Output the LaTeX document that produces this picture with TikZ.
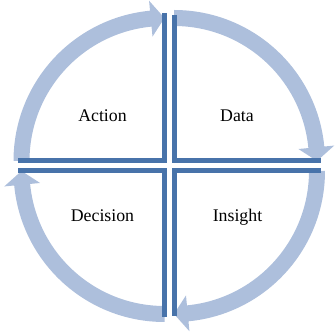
\documentclass[tikz,border=0pt]{standalone}
\usepackage{fontspec}
\setmainfont{Liberation Serif}
\definecolor{darkline}{RGB}{72,115,170}
\definecolor{arrowfill}{RGB}{173,191,220}
\newcommand\quadarrow[3]{%
  \fill[arrowfill, shift={#1}] (#2:151) arc[start angle=#2, end angle={#3+5.5}, radius=151]
    -- ({#3+5.5}:161) -- (#3:143) -- ({#3+5.5}:125) -- ({#3+5.5}:135)
    arc[start angle={#3+5.5}, end angle=#2, radius=135] -- cycle;}
\begin{document}
\begin{tikzpicture}[x=1pt,y=1pt,
  quadline/.style={draw=darkline, line width=5pt, line join=miter},
  quadlabel/.style={anchor=base, inner sep=0pt, font=\fontsize{17.8}{20}\selectfont}]
\useasboundingbox (0,0) rectangle (335,332);
\coordinate (A) at (164.5,171);
\coordinate (D) at (174,171);
\coordinate (I) at (174,161);
\coordinate (E) at (164.5,161);
% arrows
\quadarrow{(A)}{180}{90}
\quadarrow{(D)}{90}{0}
\quadarrow{(I)}{0}{-90}
\quadarrow{(E)}{270}{180}
% quadrant lines
\coordinate (a1) at (164.5,319);
\coordinate (a2) at (18,171);
\coordinate (d1) at (174,317);
\coordinate (d2) at (321,171);
\coordinate (i1) at (321,161);
\coordinate (i2) at (174,16);
\coordinate (e1) at (18,161);
\coordinate (e2) at (164.5,15);
\draw[quadline] (a1) -- (A) -- (a2);
\draw[quadline] (d1) -- (D) -- (d2);
\draw[quadline] (i1) -- (I) -- (i2);
\draw[quadline] (e1) -- (E) -- (e2);
% labels
\node[quadlabel] (action) at (102.5,210) {Action};
\node[quadlabel] (data) at (237,210) {Data};
\node[quadlabel] (decision) at (102.5,110) {Decision};
\node[quadlabel] (insight) at (237.5,110) {Insight};
\end{tikzpicture}
\end{document}
